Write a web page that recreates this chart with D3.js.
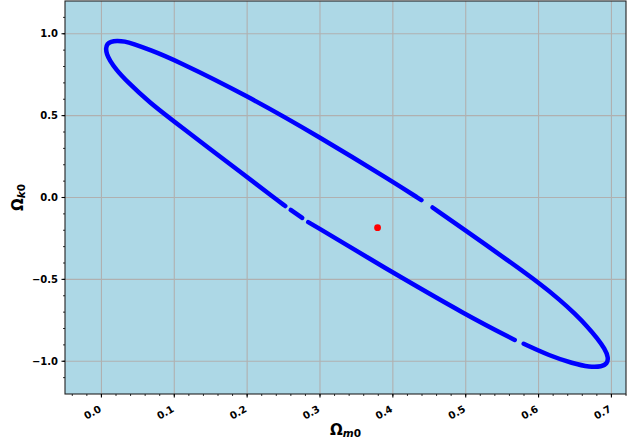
<!DOCTYPE html>
<html>
<head>
<meta charset="utf-8">
<script src="https://cdn.jsdelivr.net/npm/d3@7"></script>
<style>
  body { margin: 0; background: #fff; }
  svg { display: block; font-family: "DejaVu Sans", sans-serif; }
</style>
</head>
<body>
<svg></svg>
<script>
const width = 635;
const height = 441;
const margin = {top: 1, right: 9, bottom: 47, left: 65};

// Confidence contour as [Omega_m0, Omega_k0].
// The dots leave small gaps, so the contour is kept in pieces.
const contourRight = [
    [0.4545, -0.061], [0.500, -0.202], [0.560, -0.391], [0.600, -0.520],
    [0.630, -0.628], [0.650, -0.710], [0.667, -0.788], [0.681, -0.862],
    [0.691, -0.925], [0.696, -0.978], [0.694, -1.015], [0.687, -1.033],
    [0.670, -1.036], [0.647, -1.013], [0.615, -0.966], [0.5796, -0.893]
];
const contourLower = [
    [0.5673, -0.870], [0.500, -0.716], [0.400, -0.458], [0.379, -0.402],
    [0.2838, -0.150]
];
const contourPiece = [
    [0.2756, -0.125], [0.2598, -0.076]
];
const contourLeft = [
    [0.2523, -0.052], [0.2365, 0.000], [0.200, 0.124], [0.100, 0.463],
    [0.0663, 0.579], [0.0343, 0.712], [0.020, 0.782], [0.0114, 0.838],
    [0.0073, 0.875], [0.0059, 0.911], [0.008, 0.9385], [0.0128, 0.9525],
    [0.021, 0.958], [0.032, 0.954], [0.0434, 0.9385], [0.0663, 0.902],
    [0.100, 0.842], [0.200, 0.622], [0.300, 0.368], [0.400, 0.096],
    [0.4392, -0.016]
];
const contours = [contourRight, contourLower, contourPiece, contourLeft];

// Best fit point
const bestFit = [0.379, -0.184];

// Tick labels
const xTicks = [0.0, 0.1, 0.2, 0.3, 0.4, 0.5, 0.6, 0.7];
const yTicks = [-1.0, -0.5, 0.0, 0.5, 1.0];
const xMinor = d3.range(-0.04, 0.7201, 0.02);
const yMinor = d3.range(-1.1, 1.101, 0.1);

const svg = d3.select("svg")
    .attr("width", width)
    .attr("height", height);

const x = d3.scaleLinear()
    .domain([-0.05, 0.72])
    .range([margin.left, width - margin.right]);

const y = d3.scaleLinear()
    .domain([-1.2, 1.2])
    .range([height - margin.bottom, margin.top]);

const x0 = margin.left, x1 = width - margin.right;
const y0 = margin.top, y1 = height - margin.bottom;

// Axes background
svg.append("rect")
    .attr("x", x0).attr("y", y0)
    .attr("width", x1 - x0).attr("height", y1 - y0)
    .attr("fill", "#add8e6");

// Grid
svg.append("g").selectAll("line").data(xTicks).join("line")
    .attr("x1", d => x(d)).attr("x2", d => x(d))
    .attr("y1", y0).attr("y2", y1)
    .attr("stroke", "#b0b0b0").attr("stroke-width", 1.1);
svg.append("g").selectAll("line").data(yTicks).join("line")
    .attr("y1", d => y(d)).attr("y2", d => y(d))
    .attr("x1", x0).attr("x2", x1)
    .attr("stroke", "#b0b0b0").attr("stroke-width", 1.1);

// Contour
const line = d3.line()
    .x(d => x(d[0]))
    .y(d => y(d[1]))
    .curve(d3.curveBasis);

svg.append("g").selectAll("path").data(contours).join("path")
    .attr("d", line)
    .attr("fill", "none")
    .attr("stroke", "#0000ff")
    .attr("stroke-width", 4.5)
    .attr("stroke-linecap", "round")
    .attr("stroke-linejoin", "round");

// Best fit point
svg.append("circle")
    .attr("cx", x(bestFit[0]))
    .attr("cy", y(bestFit[1]))
    .attr("r", 3.4)
    .attr("fill", "#ff0000");

// Spines
svg.append("rect")
    .attr("x", x0).attr("y", y0)
    .attr("width", x1 - x0).attr("height", y1 - y0)
    .attr("fill", "none")
    .attr("stroke", "#222")
    .attr("stroke-width", 1.1);

// Ticks
const fmt = d => d3.format(".1f")(d).replace("-", "\u2212");

svg.append("g").selectAll("line").data(xTicks).join("line")
    .attr("x1", d => x(d)).attr("x2", d => x(d))
    .attr("y1", y1).attr("y2", y1 + 3.5)
    .attr("stroke", "#000").attr("stroke-width", 1.1);
svg.append("g").selectAll("line").data(xMinor).join("line")
    .attr("x1", d => x(d)).attr("x2", d => x(d))
    .attr("y1", y1).attr("y2", y1 + 2)
    .attr("stroke", "#000").attr("stroke-width", 0.8);
svg.append("g").selectAll("line").data(yTicks).join("line")
    .attr("y1", d => y(d)).attr("y2", d => y(d))
    .attr("x1", x0).attr("x2", x0 - 3.5)
    .attr("stroke", "#000").attr("stroke-width", 1.1);
svg.append("g").selectAll("line").data(yMinor).join("line")
    .attr("y1", d => y(d)).attr("y2", d => y(d))
    .attr("x1", x0).attr("x2", x0 - 2)
    .attr("stroke", "#000").attr("stroke-width", 0.8);

// Tick labels
svg.append("g").selectAll("text").data(xTicks).join("text")
    .attr("transform", d => `translate(${x(d) + 0.5},411) rotate(-30)`)
    .attr("text-anchor", "end")
    .attr("font-size", "10px")
    .attr("font-weight", "bold")
    .text(fmt);

svg.append("g").selectAll("text").data(yTicks).join("text")
    .attr("x", x0 - 7)
    .attr("y", d => y(d))
    .attr("dy", "0.36em")
    .attr("text-anchor", "end")
    .attr("font-size", "10px")
    .attr("font-weight", "bold")
    .text(fmt);

// Axis labels
const xLabel = svg.append("text")
    .attr("x", (x0 + x1) / 2)
    .attr("y", 434.5)
    .attr("text-anchor", "middle")
    .attr("font-size", "15px")
    .attr("font-weight", "bold");
xLabel.append("tspan").text("\u03A9");
xLabel.append("tspan").attr("font-size", "10.5px").attr("font-style", "italic").attr("dy", 2).text("m");
xLabel.append("tspan").attr("font-size", "10.5px").text("0");

const yLabel = svg.append("text")
    .attr("transform", `translate(23,${(y0 + y1) / 2}) rotate(-90)`)
    .attr("text-anchor", "middle")
    .attr("font-size", "15px")
    .attr("font-weight", "bold");
yLabel.append("tspan").text("\u03A9");
yLabel.append("tspan").attr("font-size", "10.5px").attr("font-style", "italic").attr("dy", 2).text("k");
yLabel.append("tspan").attr("font-size", "10.5px").text("0");
</script>
</body>
</html>
